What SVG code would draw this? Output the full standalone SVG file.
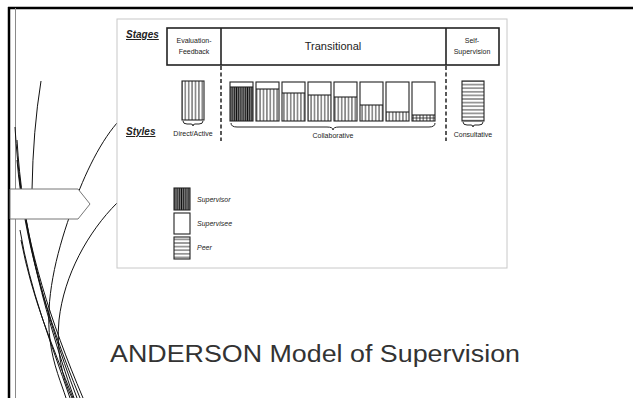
<svg xmlns="http://www.w3.org/2000/svg" width="633" height="398" viewBox="0 0 633 398">
<defs>
<pattern id="vh" patternUnits="userSpaceOnUse" width="3.4" height="10"><line x1="1.7" y1="0" x2="1.7" y2="10" stroke="#222" stroke-width="0.9"/></pattern>
<pattern id="vhd" patternUnits="userSpaceOnUse" width="2.2" height="10"><rect width="2.2" height="10" fill="#888"/><line x1="1.1" y1="0" x2="1.1" y2="10" stroke="#111" stroke-width="1"/></pattern>
<pattern id="hh" patternUnits="userSpaceOnUse" width="10" height="3.6"><line x1="0" y1="1.8" x2="10" y2="1.8" stroke="#222" stroke-width="0.9"/></pattern>
</defs>
<style>
.frame{fill:#fff;stroke:#c8c8c8;stroke-width:1}
.box{fill:none;stroke:#222;stroke-width:1.1}
.hdr{fill:none;stroke:#222;stroke-width:1.6}
.dash{stroke:#222;stroke-width:1.5;stroke-dasharray:4 2.5}
.t{font-family:"Liberation Sans",Arial,sans-serif;fill:#222}
.lbl{font-family:"Liberation Sans",Arial,sans-serif;font-size:10px;font-weight:bold;font-style:italic;fill:#222;text-decoration:underline}
.sm{font-size:7px}
.it{font-size:7px;font-style:italic}
.wisp{fill:none;stroke:#111;stroke-width:1}
.brace{fill:none;stroke:#222;stroke-width:1}
</style>
<rect width="633" height="398" fill="#fff"/>
<g id="slide-border">
<line x1="8" y1="8" x2="633" y2="8" stroke="#000" stroke-width="2.5"/>
<line x1="9" y1="7" x2="9" y2="398" stroke="#000" stroke-width="2.5"/>
<line x1="15.5" y1="8" x2="15.5" y2="398" stroke="#8a8a8a" stroke-width="1"/>
</g>
<g id="wisps">
<path class="wisp" d="M41,81 Q33,130 32,190"/>
<path class="wisp" d="M117,123 C98,145 82,180 70,215 C56,255 45,300 50,340 C53,365 62,385 66,398"/>
<path class="wisp" d="M117,203 C88,232 64,275 59,320 C56,350 62,378 72,398"/>
<path class="wisp" d="M15,127 C20,215 40,300 74,398"/>
<path class="wisp" d="M17,140 C22,225 42,305 77,398"/>
<path class="wisp" d="M17,160 C24,240 46,315 80,398"/>
<path class="wisp" d="M19,175 C28,250 50,320 83,398"/>
<path class="wisp" d="M20,230 C30,290 50,340 70,398"/>
<path class="wisp" d="M21,240 C32,298 52,345 73,398"/>
</g>
<g id="arrow">
<polygon points="10,189 78,189 90,204 78,219 10,219" fill="#fff" stroke="#777" stroke-width="1"/>
</g>
<g id="figure">
<rect class="frame" x="117" y="19" width="390" height="249"/>
<text class="lbl" x="126" y="38">Stages</text>
<text class="lbl" x="126" y="135">Styles</text>
<g id="header">
<rect class="hdr" x="167" y="28" width="332" height="37"/>
<line class="hdr" x1="221" y1="28" x2="221" y2="65"/>
<line class="hdr" x1="446" y1="28" x2="446" y2="65"/>
<text class="t sm" x="194" y="43" text-anchor="middle">Evaluation-</text>
<text class="t sm" x="194" y="54" text-anchor="middle">Feedback</text>
<text class="t" x="333" y="50" font-size="11" text-anchor="middle">Transitional</text>
<text class="t sm" x="472" y="43" text-anchor="middle">Self-</text>
<text class="t sm" x="472" y="54" text-anchor="middle">Supervision</text>
</g>
<g id="connectors">
<line class="dash" x1="221" y1="66" x2="221" y2="141"/>
<line class="dash" x1="446" y1="66" x2="446" y2="141"/>
</g>
<g id="direct">
<rect x="182" y="81" width="22" height="39" fill="url(#vh)"/>
<rect class="box" x="182" y="81" width="22" height="39"/>
<path class="brace" d="M183,121 Q183,124 187,124 L191,124 Q193,124 193,126 Q193,124 195,124 L199,124 Q203,124 203,121"/>
<text class="t sm" x="193" y="136" text-anchor="middle">Direct/Active</text>
</g>
<g id="collaborative">
<rect x="230" y="87" width="23" height="34" fill="url(#vhd)"/>
<rect class="box" x="230" y="82" width="23" height="39"/><line class="box" x1="230" y1="87" x2="253" y2="87"/>
<rect x="256" y="89" width="23" height="32" fill="url(#vh)"/>
<rect class="box" x="256" y="82" width="23" height="39"/><line class="box" x1="256" y1="89" x2="279" y2="89"/>
<rect x="282" y="93" width="23" height="28" fill="url(#vh)"/>
<rect class="box" x="282" y="82" width="23" height="39"/><line class="box" x1="282" y1="93" x2="305" y2="93"/>
<rect x="308" y="95" width="23" height="26" fill="url(#vh)"/>
<rect class="box" x="308" y="82" width="23" height="39"/><line class="box" x1="308" y1="95" x2="331" y2="95"/>
<rect x="334" y="97" width="23" height="24" fill="url(#vh)"/>
<rect class="box" x="334" y="82" width="23" height="39"/><line class="box" x1="334" y1="97" x2="357" y2="97"/>
<rect x="360" y="105" width="23" height="16" fill="url(#vh)"/>
<rect class="box" x="360" y="82" width="23" height="39"/><line class="box" x1="360" y1="105" x2="383" y2="105"/>
<rect x="386" y="112" width="23" height="9" fill="url(#vh)"/>
<rect class="box" x="386" y="82" width="23" height="39"/><line class="box" x1="386" y1="112" x2="409" y2="112"/>
<rect x="412" y="115" width="23" height="6" fill="url(#vh)"/>
<line x1="412" y1="118" x2="435" y2="118" stroke="#222" stroke-width="0.8"/>
<rect class="box" x="412" y="82" width="23" height="39"/><line class="box" x1="412" y1="115" x2="435" y2="115"/>
<path class="brace" d="M231,123 Q231,127 237,127 L327,127 Q333,127 333,130 Q333,127 339,127 L429,127 Q435,127 435,123"/>
<text class="t sm" x="333" y="138" text-anchor="middle">Collaborative</text>
</g>
<g id="consultative">
<rect x="462" y="81" width="22" height="40" fill="url(#hh)"/>
<rect class="box" x="462" y="81" width="22" height="40"/>
<path class="brace" d="M463,122 Q463,125 467,125 L471,125 Q473,125 473,127 Q473,125 475,125 L479,125 Q483,125 483,122"/>
<text class="t sm" x="473" y="137" text-anchor="middle">Consultative</text>
</g>
<g id="legend">
<rect x="174" y="188" width="16" height="22" fill="url(#vhd)"/>
<rect class="box" x="174" y="188" width="16" height="22"/>
<text class="t it" x="197" y="202">Supervisor</text>
<rect class="box" x="174" y="213" width="16" height="21"/>
<text class="t it" x="197" y="226">Supervisee</text>
<rect x="174" y="237" width="16" height="22" fill="url(#hh)"/>
<rect class="box" x="174" y="237" width="16" height="22"/>
<text class="t it" x="197" y="250">Peer</text>
</g>
</g>
<g id="title">
<text x="110" y="362" font-family="'Liberation Sans',Arial,sans-serif" font-size="23" fill="#333" textLength="410" lengthAdjust="spacingAndGlyphs">ANDERSON Model of Supervision</text>
</g>
</svg>
